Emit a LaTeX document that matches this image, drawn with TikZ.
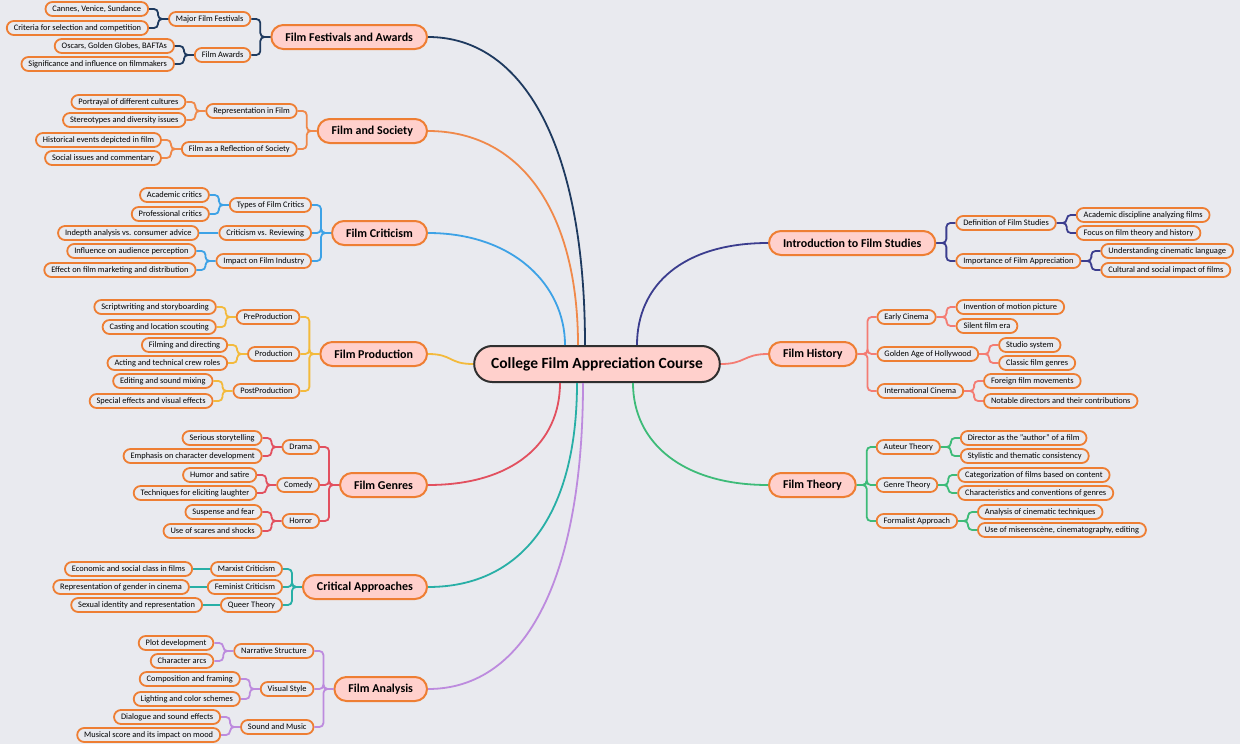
\documentclass[tikz,border=0pt]{standalone}
\usepackage{fontspec}
\setmainfont{Carlito}

\definecolor{bg}{HTML}{E9EAEF}
\definecolor{nodefill}{HTML}{FFD0CC}
\definecolor{nodeline}{HTML}{EE7E33}
\definecolor{rootline}{HTML}{2F2F2F}
\definecolor{cFes}{HTML}{1E3A5F}
\definecolor{cSoc}{HTML}{F0894A}
\definecolor{cCri}{HTML}{3DA2E6}
\definecolor{cPro}{HTML}{F3BA3C}
\definecolor{cGen}{HTML}{E2505F}
\definecolor{cApp}{HTML}{28AFA6}
\definecolor{cAna}{HTML}{BD8BDE}
\definecolor{cInt}{HTML}{3B3D8E}
\definecolor{cHis}{HTML}{F47C73}
\definecolor{cThe}{HTML}{3DBB78}

\begin{document}
\begin{tikzpicture}[x=1pt,y=-1pt,
  root/.style={draw=rootline,fill=nodefill,line width=2pt,rounded corners=18pt,
    minimum height=36pt,inner xsep=17pt,font=\bfseries\fontsize{15.5}{18}\selectfont},
  topic/.style={draw=nodeline,fill=nodefill,line width=2pt,rounded corners=12pt,
    minimum height=24pt,inner xsep=14pt,font=\bfseries\fontsize{12}{14}\selectfont},
  item/.style={draw=nodeline,fill=bg,line width=1.8pt,rounded corners=7pt,
    minimum height=14pt,inner ysep=0pt,inner xsep=7pt,font=\fontsize{8.4}{10}\selectfont},
  link/.style={line width=1.8pt},
  br/.style={line width=1.8pt,rounded corners=4pt}]
  \fill[bg] (0,0) rectangle (1240,744);
  \useasboundingbox (0,0) rectangle (1240,744);

  % centre
  \node[root] (root) at (597,364) {College Film Appreciation Course};

  % Film Festivals and Awards
  \node[topic,anchor=east] (fes) at (428,37) {Film Festivals and Awards};
  \draw[link,cFes] (fes.east) .. controls +(95,0) and +(0,-200) .. ([xshift=-12pt]root.north);
  \foreach \p/\n/\y/\t in {fes/mff/19/Major Film Festivals, fes/faw/55/Film Awards,
      mff/mff1/9/{Cannes, Venice, Sundance}, mff/mff2/28/Criteria for selection and competition,
      faw/faw1/46/{Oscars, Golden Globes, BAFTAs}, faw/faw2/64/Significance and influence on filmmakers}{
    \node[item,anchor=east] (\n) at ([xshift=-19pt]\p.west |- 0,\y) {\t};
    \draw[br,cFes] (\p.west) -- ++(-10,0) |- (\n.east);
  }

  % Film and Society
  \node[topic,anchor=east] (soc) at (428,131) {Film and Society};
  \draw[link,cSoc] (soc.east) .. controls +(95,0) and +(0,-130) .. ([xshift=-19pt]root.north);
  \foreach \p/\n/\y/\t in {soc/rep/111/Representation in Film, soc/ref/149/Film as a Reflection of Society,
      rep/rep1/102/Portrayal of different cultures, rep/rep2/120/Stereotypes and diversity issues,
      ref/ref1/140/Historical events depicted in film, ref/ref2/158/Social issues and commentary}{
    \node[item,anchor=east] (\n) at ([xshift=-19pt]\p.west |- 0,\y) {\t};
    \draw[br,cSoc] (\p.west) -- ++(-10,0) |- (\n.east);
  }

  % Film Criticism
  \node[topic,anchor=east] (cri) at (428,233) {Film Criticism};
  \draw[link,cCri] (cri.east) .. controls +(85,0) and +(0,-60) .. ([xshift=-32pt]root.north);
  \foreach \p/\n/\y/\t in {cri/typ/205/Types of Film Critics, cri/cvr/233/Criticism vs. Reviewing,
      cri/imp/261/Impact on Film Industry,
      typ/typ1/195/Academic critics, typ/typ2/214/Professional critics,
      imp/imp1/251/Influence on audience perception, imp/imp2/270/Effect on film marketing and distribution}{
    \node[item,anchor=east] (\n) at ([xshift=-19pt]\p.west |- 0,\y) {\t};
    \draw[br,cCri] (\p.west) -- ++(-10,0) |- (\n.east);
  }
  \node[item,anchor=east] (cvr1) at ([xshift=-19pt]cvr.west) {Indepth analysis vs. consumer advice};
  \draw[link,cCri] (cvr.west) -- (cvr1.east);

  % Film Production
  \node[topic,anchor=east] (pro) at (428,354) {Film Production};
  \draw[link,cPro] (pro.east) .. controls +(25,0) and +(-25,0) .. (root.west);
  \foreach \p/\n/\y/\t in {pro/pre/317/PreProduction, pro/prd/354/Production, pro/pst/391/PostProduction,
      pre/pre1/307/Scriptwriting and storyboarding, pre/pre2/327/Casting and location scouting,
      prd/prd1/345/Filming and directing, prd/prd2/363/Acting and technical crew roles,
      pst/pst1/381/Editing and sound mixing, pst/pst2/401/Special effects and visual effects}{
    \node[item,anchor=east] (\n) at ([xshift=-19pt]\p.west |- 0,\y) {\t};
    \draw[br,cPro] (\p.west) -- ++(-10,0) |- (\n.east);
  }

  % Film Genres
  \node[topic,anchor=east] (gen) at (428,485) {Film Genres};
  \draw[link,cGen] (gen.east) .. controls +(85,0) and +(0,60) .. ([xshift=-37pt]root.south);
  \foreach \p/\n/\y/\t in {gen/dra/447/Drama, gen/com/485/Comedy, gen/hor/521/Horror,
      dra/dra1/438/Serious storytelling, dra/dra2/456/Emphasis on character development,
      com/com1/475/Humor and satire, com/com2/493/Techniques for eliciting laughter,
      hor/hor1/512/Suspense and fear, hor/hor2/531/Use of scares and shocks}{
    \node[item,anchor=east] (\n) at ([xshift=-19pt]\p.west |- 0,\y) {\t};
    \draw[br,cGen] (\p.west) -- ++(-10,0) |- (\n.east);
  }

  % Critical Approaches
  \node[topic,anchor=east] (app) at (428,587) {Critical Approaches};
  \draw[link,cApp] (app.east) .. controls +(95,0) and +(0,130) .. ([xshift=-20pt]root.south);
  \foreach \p/\n/\y/\t in {app/mar/569/Marxist Criticism, app/fem/587/Feminist Criticism,
      app/que/605/Queer Theory}{
    \node[item,anchor=east] (\n) at ([xshift=-19pt]\p.west |- 0,\y) {\t};
    \draw[br,cApp] (\p.west) -- ++(-10,0) |- (\n.east);
  }
  \foreach \p/\n/\t in {mar/mar1/Economic and social class in films, fem/fem1/Representation of gender in cinema,
      que/que1/Sexual identity and representation}{
    \node[item,anchor=east] (\n) at ([xshift=-17pt]\p.west) {\t};
    \draw[link,cApp] (\p.west) -- (\n.east);
  }

  % Film Analysis
  \node[topic,anchor=east] (ana) at (428,689) {Film Analysis};
  \draw[link,cAna] (ana.east) .. controls +(100,0) and +(0,190) .. ([xshift=-14pt]root.south);
  \foreach \p/\n/\y/\t in {ana/nar/651/Narrative Structure, ana/vis/689/Visual Style,
      ana/snd/727/Sound and Music,
      nar/nar1/643/Plot development, nar/nar2/661/Character arcs,
      vis/vis1/679/Composition and framing, vis/vis2/699/Lighting and color schemes,
      snd/snd1/717/Dialogue and sound effects, snd/snd2/735/Musical score and its impact on mood}{
    \node[item,anchor=east] (\n) at ([xshift=-19pt]\p.west |- 0,\y) {\t};
    \draw[br,cAna] (\p.west) -- ++(-10,0) |- (\n.east);
  }

  % Introduction to Film Studies
  \node[topic,anchor=west] (int) at (768,243) {Introduction to Film Studies};
  \draw[link,cInt] (int.west) .. controls +(-85,0) and +(0,-60) .. ([xshift=40pt]root.north);
  \foreach \p/\n/\y/\t in {int/def/223/Definition of Film Studies, int/imf/261/Importance of Film Appreciation,
      def/def1/215/Academic discipline analyzing films, def/def2/233/Focus on film theory and history,
      imf/imf1/251/Understanding cinematic language, imf/imf2/270/Cultural and social impact of films}{
    \node[item,anchor=west] (\n) at ([xshift=19pt]\p.east |- 0,\y) {\t};
    \draw[br,cInt] (\p.east) -- ++(10,0) |- (\n.west);
  }

  % Film History
  \node[topic,anchor=west] (his) at (768,354) {Film History};
  \draw[link,cHis] (his.west) .. controls +(-25,0) and +(25,0) .. (root.east);
  \foreach \p/\n/\y/\t in {his/ear/317/Early Cinema, his/gol/354/Golden Age of Hollywood,
      his/itl/391/International Cinema,
      ear/ear1/307/Invention of motion picture, ear/ear2/326/Silent film era,
      gol/gol1/345/Studio system, gol/gol2/363/Classic film genres,
      itl/itl1/381/Foreign film movements, itl/itl2/401/Notable directors and their contributions}{
    \node[item,anchor=west] (\n) at ([xshift=19pt]\p.east |- 0,\y) {\t};
    \draw[br,cHis] (\p.east) -- ++(10,0) |- (\n.west);
  }

  % Film Theory
  \node[topic,anchor=west] (the) at (768,485) {Film Theory};
  \draw[link,cThe] (the.west) .. controls +(-85,0) and +(0,60) .. ([xshift=36pt]root.south);
  \foreach \p/\n/\y/\t in {the/aut/447/Auteur Theory, the/gth/485/Genre Theory,
      the/frm/521/Formalist Approach,
      aut/aut1/438/Director as the "author" of a film, aut/aut2/456/Stylistic and thematic consistency,
      gth/gth1/475/Categorization of films based on content, gth/gth2/493/Characteristics and conventions of genres,
      frm/frm1/512/Analysis of cinematic techniques, frm/frm2/530/{Use of miseenscène, cinematography, editing}}{
    \node[item,anchor=west] (\n) at ([xshift=19pt]\p.east |- 0,\y) {\t};
    \draw[br,cThe] (\p.east) -- ++(10,0) |- (\n.west);
  }
\end{tikzpicture}
\end{document}
